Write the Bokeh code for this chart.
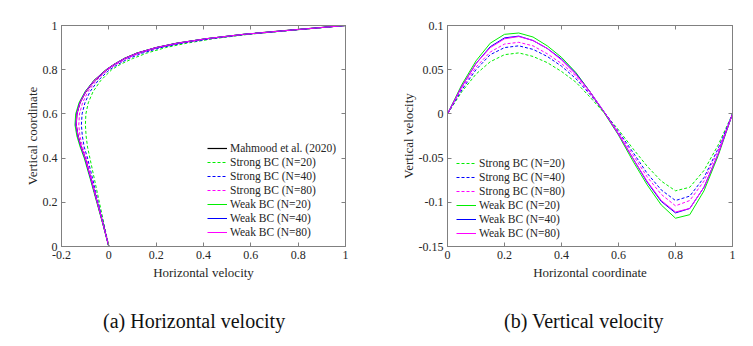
from bokeh.plotting import figure
from bokeh.models import (Range1d, FixedTicker, LinearAxis, Legend, LegendItem, Div)
from bokeh.layouts import row, column
from bokeh.embed import file_html
from bokeh.resources import INLINE

# ---------------- data: (a) horizontal velocity along vertical centreline ----------------
y_coord = [0, 0.1, 0.2, 0.3, 0.4, 0.45, 0.5, 0.55, 0.6, 0.65, 0.7, 0.75, 0.8, 0.825, 0.85, 0.875, 0.9, 0.92, 0.94, 0.96, 0.98, 1.0]
u_mahmood = [0, -0.024, -0.049, -0.074, -0.100, -0.117, -0.130, -0.138, -0.135, -0.122, -0.098, -0.062, -0.010, 0.024, 0.065, 0.120, 0.20, 0.29, 0.41, 0.57, 0.78, 1.0]
u_strong20 = [0, -0.020, -0.040, -0.060, -0.080, -0.090, -0.096, -0.099, -0.097, -0.087, -0.067, -0.035, 0.012, 0.050, 0.100, 0.160, 0.24, 0.33, 0.44, 0.59, 0.79, 1.0]
u_strong40 = [0, -0.022, -0.045, -0.067, -0.090, -0.104, -0.112, -0.116, -0.113, -0.101, -0.080, -0.046, 0.003, 0.040, 0.083, 0.142, 0.22, 0.31, 0.43, 0.58, 0.785, 1.0]
u_strong80 = [0, -0.023, -0.047, -0.071, -0.095, -0.111, -0.122, -0.127, -0.124, -0.111, -0.089, -0.054, -0.004, 0.032, 0.074, 0.130, 0.21, 0.30, 0.42, 0.575, 0.78, 1.0]
u_weak20 = [0, -0.025, -0.051, -0.077, -0.104, -0.121, -0.135, -0.143, -0.140, -0.126, -0.101, -0.064, -0.011, 0.023, 0.063, 0.118, 0.20, 0.29, 0.41, 0.57, 0.78, 1.0]
u_weak40 = [0, -0.024, -0.049, -0.075, -0.101, -0.118, -0.131, -0.139, -0.136, -0.123, -0.099, -0.063, -0.010, 0.024, 0.065, 0.120, 0.20, 0.29, 0.41, 0.57, 0.78, 1.0]
u_weak80 = [0, -0.024, -0.049, -0.074, -0.100, -0.117, -0.130, -0.138, -0.135, -0.122, -0.098, -0.062, -0.010, 0.024, 0.065, 0.120, 0.20, 0.29, 0.41, 0.57, 0.78, 1.0]

# ---------------- data: (b) vertical velocity along horizontal centreline ----------------
x_coord = [0, 0.05, 0.1, 0.15, 0.2, 0.25, 0.3, 0.35, 0.4, 0.45, 0.5, 0.55, 0.6, 0.65, 0.7, 0.75, 0.8, 0.85, 0.9, 0.95, 1.0]
v_strong20 = [0, 0.025, 0.045, 0.059, 0.067, 0.069, 0.065, 0.058, 0.048, 0.036, 0.019, 0.001, -0.018, -0.039, -0.059, -0.076, -0.087, -0.083, -0.064, -0.035, 0]
v_strong40 = [0, 0.027, 0.050, 0.067, 0.075, 0.077, 0.073, 0.065, 0.054, 0.040, 0.022, 0.002, -0.020, -0.043, -0.067, -0.086, -0.098, -0.093, -0.072, -0.039, 0]
v_strong80 = [0, 0.029, 0.053, 0.070, 0.079, 0.081, 0.077, 0.068, 0.057, 0.043, 0.023, 0.002, -0.021, -0.046, -0.071, -0.091, -0.104, -0.098, -0.076, -0.041, 0]
v_weak20 = [0, 0.033, 0.060, 0.080, 0.090, 0.0915, 0.087, 0.077, 0.064, 0.047, 0.025, 0.001, -0.024, -0.053, -0.080, -0.103, -0.118, -0.114, -0.087, -0.047, 0]
v_weak40 = [0, 0.031, 0.057, 0.076, 0.086, 0.088, 0.083, 0.074, 0.062, 0.046, 0.025, 0.002, -0.023, -0.050, -0.077, -0.099, -0.112, -0.107, -0.083, -0.045, 0]
v_weak80 = [0, 0.031, 0.057, 0.075, 0.085, 0.0875, 0.083, 0.074, 0.061, 0.045, 0.025, 0.002, -0.023, -0.050, -0.076, -0.098, -0.111, -0.107, -0.083, -0.045, 0]

# ---------------- ticks ----------------
a_xticks = [-0.2, 0, 0.2, 0.4, 0.6, 0.8, 1]
a_xlabels = ["-0.2", "0", "0.2", "0.4", "0.6", "0.8", "1"]
a_yticks = [0, 0.2, 0.4, 0.6, 0.8, 1]
a_ylabels = ["0", "0.2", "0.4", "0.6", "0.8", "1"]
b_xticks = [0, 0.2, 0.4, 0.6, 0.8, 1]
b_xlabels = ["0", "0.2", "0.4", "0.6", "0.8", "1"]
b_yticks = [-0.15, -0.1, -0.05, 0, 0.05, 0.1]
b_ylabels = ["-0.15", "-0.1", "-0.05", "0", "0.05", "0.1"]

FONT = "'Liberation Serif', serif"
AX = "#808080"
TXT = "#262626"
GREEN, BLUE, MAGENTA = "#00ee00", "#0000ff", "#ff00ff"
DASH = "3 2"


def style_axis(ax, ticks, labels, show_labels=True):
    ax.ticker = FixedTicker(ticks=ticks)
    ax.axis_line_color = AX
    ax.major_tick_line_color = AX
    ax.major_tick_in = 4
    ax.major_tick_out = 0
    ax.minor_tick_line_color = None
    ax.major_label_text_font = FONT
    ax.major_label_text_color = TXT
    if show_labels:
        ax.major_label_overrides = {t: l for t, l in zip(ticks, labels)}
        ax.major_label_text_font_size = "12px"
        ax.major_label_standoff = 4
    else:
        ax.major_label_overrides = {t: "" for t in ticks}
        ax.major_label_text_font_size = "0px"
        ax.major_label_standoff = 0
    ax.axis_label_text_font = FONT
    ax.axis_label_text_font_size = "13px"
    ax.axis_label_text_font_style = "normal"
    ax.axis_label_text_color = TXT


def make_fig(xr, yr, xt, xl, yt, yl, xlabel, ylabel, width, bl, br, bt, bb):
    p = figure(width=width, height=290,
               x_range=Range1d(*xr), y_range=Range1d(*yr),
               output_backend="svg", toolbar_location=None,
               min_border_left=bl, min_border_right=br, min_border_top=bt, min_border_bottom=bb,
               x_axis_label=xlabel, y_axis_label=ylabel)
    p.xgrid.visible = False
    p.ygrid.visible = False
    p.outline_line_color = AX
    p.background_fill_color = "white"
    p.border_fill_color = "white"
    style_axis(p.xaxis[0], xt, xl)
    style_axis(p.yaxis[0], yt, yl)
    p.xaxis[0].axis_label_standoff = 3
    p.yaxis[0].axis_label_standoff = 0
    top = LinearAxis()
    style_axis(top, xt, xl, show_labels=False)
    p.add_layout(top, "above")
    right = LinearAxis()
    style_axis(right, yt, yl, show_labels=False)
    p.add_layout(right, "right")
    return p


def caption(text, width, left):
    html = ('<div style="margin-top:20px;margin-left:%dpx;font-family:\'Liberation Serif\',serif;'
            'font-size:20px;line-height:23px;color:#111111;white-space:nowrap;">%s</div>' % (left, text))
    return Div(text=html, width=width, height=56, margin=0)


# ---------------- (a) ----------------
pa = make_fig((-0.2, 1), (0, 1), a_xticks, a_xlabels, a_yticks, a_ylabels,
              "Horizontal velocity", "Vertical coordinate", 375, 61, 30, 25, 43)
ra = []
ra.append(("Mahmood et al. (2020)", pa.line(u_mahmood, y_coord, line_color="black", line_width=1.2)))
ra.append(("Strong BC (N=20)", pa.line(u_strong20, y_coord, line_color=GREEN, line_width=1, line_dash=DASH)))
ra.append(("Strong BC (N=40)", pa.line(u_strong40, y_coord, line_color=BLUE, line_width=1, line_dash=DASH)))
ra.append(("Strong BC (N=80)", pa.line(u_strong80, y_coord, line_color=MAGENTA, line_width=1, line_dash=DASH)))
ra.append(("Weak BC (N=20)", pa.line(u_weak20, y_coord, line_color=GREEN, line_width=1)))
ra.append(("Weak BC (N=40)", pa.line(u_weak40, y_coord, line_color=BLUE, line_width=1)))
ra.append(("Weak BC (N=80)", pa.line(u_weak80, y_coord, line_color=MAGENTA, line_width=1)))

# ---------------- (b) ----------------
pb = make_fig((0, 1), (-0.15, 0.1), b_xticks, b_xlabels, b_yticks, b_ylabels,
              "Horizontal coordinate", "Vertical velocity", 370, 72, 13, 24, 44)
rb = []
rb.append(("Strong BC (N=20)", pb.line(x_coord, v_strong20, line_color=GREEN, line_width=1, line_dash=DASH)))
rb.append(("Strong BC (N=40)", pb.line(x_coord, v_strong40, line_color=BLUE, line_width=1, line_dash=DASH)))
rb.append(("Strong BC (N=80)", pb.line(x_coord, v_strong80, line_color=MAGENTA, line_width=1, line_dash=DASH)))
rb.append(("Weak BC (N=20)", pb.line(x_coord, v_weak20, line_color=GREEN, line_width=1)))
rb.append(("Weak BC (N=40)", pb.line(x_coord, v_weak40, line_color=BLUE, line_width=1)))
rb.append(("Weak BC (N=80)", pb.line(x_coord, v_weak80, line_color=MAGENTA, line_width=1)))


def add_legend(p, items, loc):
    lg = Legend(items=[LegendItem(label=l, renderers=[r]) for l, r in items],
                location=loc, background_fill_alpha=0, border_line_color=None,
                padding=0, margin=0, spacing=0, label_height=14, glyph_height=14,
                glyph_width=20, label_standoff=3,
                label_text_font=FONT, label_text_font_size="11.5px", label_text_color=TXT)
    p.add_layout(lg, "center")


add_legend(pa, ra, (146, 7))
add_legend(pb, rb, (9, 6))

cap_a = caption("(a) Horizontal velocity", 375, 103)
cap_b = caption("(b) Vertical velocity", 370, 129)

layout = column(row(pa, pb, spacing=0), row(cap_a, cap_b, spacing=0), spacing=0)
open("out.html", "w").write(file_html(layout, INLINE))
